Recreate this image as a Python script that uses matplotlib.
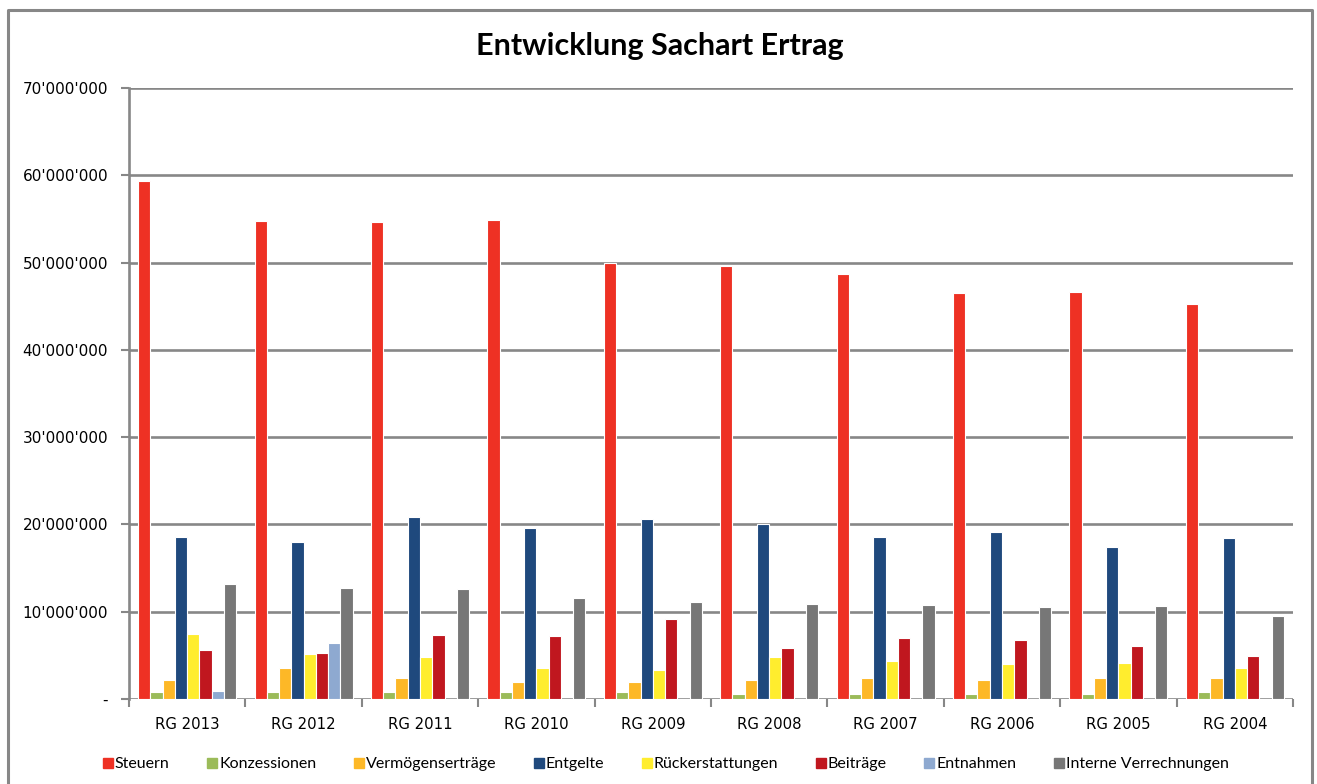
import matplotlib.pyplot as plt
import numpy as np
from matplotlib.lines import Line2D

jahre = ["RG 2013", "RG 2012", "RG 2011", "RG 2010", "RG 2009",
         "RG 2008", "RG 2007", "RG 2006", "RG 2005", "RG 2004"]

steuern = [59.3, 54.8, 54.6, 54.9, 49.9, 49.6, 48.7, 46.5, 46.6, 45.2]
konzessionen = [0.8, 0.8, 0.8, 0.8, 0.8, 0.6, 0.6, 0.6, 0.6, 0.8]
vermoegen = [2.2, 3.6, 2.4, 1.9, 2.0, 2.2, 2.4, 2.2, 2.4, 2.4]
entgelte = [18.6, 18.0, 20.9, 19.6, 20.6, 20.0, 18.6, 19.1, 17.4, 18.5]
rueck = [7.4, 5.2, 4.8, 3.6, 3.3, 4.8, 4.3, 4.0, 4.1, 3.5]
beitraege = [5.6, 5.3, 7.3, 7.2, 9.2, 5.9, 7.0, 6.8, 6.1, 4.9]
entnahmen = [0.9, 6.4, 0, 0, 0, 0, 0, 0, 0, 0]
interne = [13.2, 12.7, 12.6, 11.6, 11.1, 10.9, 10.8, 10.5, 10.6, 9.5]

serien = ["Steuern", "Konzessionen", "Vermögenserträge", "Entgelte",
          "Rückerstattungen", "Beiträge", "Entnahmen", "Interne Verrechnungen"]
werte = [steuern, konzessionen, vermoegen, entgelte, rueck, beitraege, entnahmen, interne]
farben = ["#EE3124", "#9BBB59", "#FDB827", "#1F497D",
          "#FFED2E", "#C0171F", "#8EA9D0", "#777777"]

grau = "#878787"

fig = plt.figure(figsize=(13.17, 7.84), dpi=100)
ax = fig.add_axes([129/1317, 1-699/784, (1293-129)/1317, (699-88)/784])

# Excel style: 8 bars + 150% gap per group
bw = 1/9.5
x = np.arange(len(jahre))
for i, (name, v, c) in enumerate(zip(serien, werte, farben)):
    pos = x - 0.5 + 0.75*bw + (i + 0.5)*bw
    ax.bar(pos, np.array(v)*1e6, width=bw, color=c, edgecolor="white",
           linewidth=0.8, zorder=3, label=name)

ax.set_xlim(-0.5, len(jahre)-0.5)
ax.set_ylim(0, 70e6)
yt = np.arange(0, 70e6+1, 10e6)
ax.set_yticks(yt)
ax.set_yticklabels(["-"] + ["{:,}".format(int(t)).replace(",", "'") for t in yt[1:]],
                   fontsize=11, family="DejaVu Sans")
for t in yt:
    ax.axhline(t, color=grau, lw=1.9, zorder=1)

ax.set_xticks(x)
ax.set_xticklabels(jahre, fontsize=10.7, family="DejaVu Sans")
ax.set_xticks(np.arange(-0.5, len(jahre)), minor=True)
ax.tick_params(axis="x", which="major", length=0, pad=13)
ax.tick_params(axis="x", which="minor", length=6, width=1.5, color=grau)
ax.tick_params(axis="y", length=6, width=1.5, color=grau, pad=9)

for s in ["top", "right", "bottom"]:
    ax.spines[s].set_visible(False)
ax.spines["left"].set_color(grau)
ax.spines["left"].set_linewidth(1.9)

fig.text(0.501, 1-46/784, "Entwicklung Sachart Ertrag", ha="center", va="center",
         fontsize=22, fontweight="bold", family="Lato")

# legend
handles = [Line2D([0], [0], marker="s", ls="", markersize=7, markerfacecolor=c,
                  markeredgecolor=c) for c in farben]
fig.legend(handles, serien, loc="center", bbox_to_anchor=(0.505, 1-764/784), ncol=8,
           frameon=False, prop={"family": "Lato", "size": 11.5}, handletextpad=0.05,
           columnspacing=2.25, handlelength=0.8)

# outer frame
fig.add_artist(Line2D([8/1317, 8/1317, 1312/1317, 1312/1317],
                      [-0.1, 1-10/784, 1-10/784, -0.1], color=grau, lw=2.2,
                      transform=fig.transFigure))

fig.savefig("out.png", dpi=100)
